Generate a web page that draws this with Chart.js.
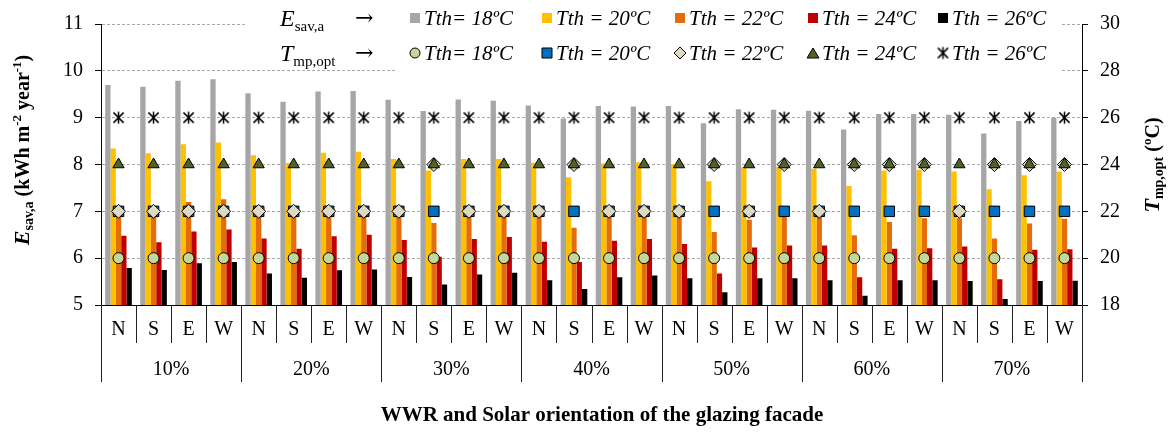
<!DOCTYPE html>
<html>
<head>
<meta charset="utf-8">
<title>Esav,a and Tmp,opt by WWR and orientation</title>
<script src="https://cdn.jsdelivr.net/npm/chart.js@4.4.0/dist/chart.umd.min.js"></script>
<style>
  html, body { margin: 0; padding: 0; background: #fff; }
  #wrap { width: 1168px; height: 432px; }
</style>
</head>
<body>
<div id="wrap"><canvas id="chart" width="1168" height="432"></canvas></div>
<script>
// --- data ---
const orientations = ['N', 'S', 'E', 'W'];
const wwrGroups = ['10%', '20%', '30%', '40%', '50%', '60%', '70%'];

// E_sav,a (kWh m-2 year-1), bars, one per Tth
const esav18 = [9.70, 9.66, 9.79, 9.82, 9.52, 9.34, 9.56, 9.57, 9.38, 9.14, 9.39, 9.36, 9.26, 8.98,
                9.25, 9.24, 9.25, 8.88, 9.18, 9.17, 9.15, 8.75, 9.08, 9.08, 9.06, 8.66, 8.93, 9.00];
const esav20 = [8.34, 8.24, 8.43, 8.47, 8.20, 8.03, 8.25, 8.27, 8.12, 7.87, 8.12, 8.12, 8.04, 7.73,
                8.02, 8.05, 8.01, 7.64, 7.94, 7.95, 7.91, 7.54, 7.87, 7.89, 7.85, 7.47, 7.77, 7.85];
const esav22 = [7.05, 7.00, 7.20, 7.26, 7.02, 6.95, 7.04, 7.05, 6.98, 6.75, 6.98, 6.99, 6.95, 6.65,
                6.94, 6.96, 6.92, 6.56, 6.82, 6.90, 6.90, 6.49, 6.77, 6.85, 6.85, 6.42, 6.74, 6.84];
const esav24 = [6.48, 6.34, 6.57, 6.61, 6.42, 6.20, 6.47, 6.50, 6.39, 6.03, 6.41, 6.45, 6.35, 5.92,
                6.37, 6.41, 6.30, 5.67, 6.23, 6.27, 6.27, 5.59, 6.20, 6.21, 6.25, 5.55, 6.18, 6.19];
const esav26 = [5.79, 5.75, 5.89, 5.92, 5.67, 5.58, 5.74, 5.76, 5.60, 5.44, 5.65, 5.69, 5.53, 5.34,
                5.59, 5.63, 5.57, 5.27, 5.57, 5.57, 5.53, 5.20, 5.53, 5.53, 5.51, 5.13, 5.51, 5.52];

// T_mp,opt (ºC), markers on the right axis
const tmp18 = [20, 20, 20, 20, 20, 20, 20, 20, 20, 20, 20, 20, 20, 20,
               20, 20, 20, 20, 20, 20, 20, 20, 20, 20, 20, 20, 20, 20];
const tmp20 = [22, 22, 22, 22, 22, 22, 22, 22, 22, 22, 22, 22, 22, 22,
               22, 22, 22, 22, 22, 22, 22, 22, 22, 22, 22, 22, 22, 22];
const tmp22 = [22, 22, 22, 22, 22, 22, 22, 22, 22, 24, 22, 22, 22, 24,
               22, 22, 22, 24, 22, 24, 22, 24, 24, 24, 22, 24, 24, 24];
const tmp24 = [24, 24, 24, 24, 24, 24, 24, 24, 24, 24, 24, 24, 24, 24,
               24, 24, 24, 24, 24, 24, 24, 24, 24, 24, 24, 24, 24, 24];
const tmp26 = [26, 26, 26, 26, 26, 26, 26, 26, 26, 26, 26, 26, 26, 26,
               26, 26, 26, 26, 26, 26, 26, 26, 26, 26, 26, 26, 26, 26];

const leftTicks = [5, 6, 7, 8, 9, 10, 11];
const rightTicks = [18, 20, 22, 24, 26, 28, 30];

// category labels: one per (wwr, orientation)
const labels = [];
wwrGroups.forEach(g => orientations.forEach(o => labels.push(o + ' ' + g)));

const SERIF = '"Liberation Serif", "Times New Roman", serif';
const C = {
  gray: '#a6a6a6', yellow: '#ffc000', orange: '#e46c0a', red: '#c00000', black: '#000000',
  circle: '#c3d69b', square: '#0070c0', diamond: '#ddd9c3', triangle: '#4f6228'
};

// asterisk marker (X + vertical stroke)
function makeAsterisk(size) {
  const c = document.createElement('canvas');
  c.width = size; c.height = size;
  const g = c.getContext('2d');
  const m = size / 2, r = size / 2 - 1.5;
  g.strokeStyle = '#000';
  g.lineWidth = 1.5;
  g.beginPath();
  g.moveTo(m - r * 0.85, m - r * 0.85); g.lineTo(m + r * 0.85, m + r * 0.85);
  g.moveTo(m + r * 0.85, m - r * 0.85); g.lineTo(m - r * 0.85, m + r * 0.85);
  g.moveTo(m, m - r); g.lineTo(m, m + r);
  g.stroke();
  return c;
}
const asterisk = makeAsterisk(15);

function barSet(label, data, color) {
  return { type: 'bar', label, data, backgroundColor: color, borderWidth: 0, yAxisID: 'y', order: 10,
           categoryPercentage: 0.76, barPercentage: 1.0 };
}
function markSet(label, data, style, fill, radius, order) {
  return { type: 'line', label, data, yAxisID: 'y2', showLine: false, order,
           pointStyle: style, pointRadius: radius, pointHoverRadius: radius,
           pointBackgroundColor: fill, pointBorderColor: '#000', pointBorderWidth: 1 };
}

// --- drawing helpers for the legend, titles and the two-level axis ---
function drawRich(ctx, parts, x, y, align) {
  ctx.textAlign = 'left';
  let total = 0;
  parts.forEach(p => { ctx.font = p[1]; total += ctx.measureText(p[0]).width; });
  let cx = align === 'center' ? x - total / 2 : x;
  parts.forEach(p => {
    ctx.font = p[1];
    ctx.fillText(p[0], cx, y + (p[2] || 0));
    cx += ctx.measureText(p[0]).width;
  });
}

function legendMarker(ctx, kind, x, y) {
  ctx.save();
  ctx.lineWidth = 1;
  ctx.strokeStyle = '#000';
  ctx.beginPath();
  if (kind === 'circle') {
    ctx.fillStyle = C.circle; ctx.arc(x, y, 5, 0, Math.PI * 2); ctx.fill(); ctx.stroke();
  } else if (kind === 'square') {
    ctx.fillStyle = C.square; ctx.rect(x - 5, y - 5, 10, 10); ctx.fill(); ctx.stroke();
  } else if (kind === 'diamond') {
    ctx.fillStyle = C.diamond;
    ctx.moveTo(x, y - 6); ctx.lineTo(x + 6, y); ctx.lineTo(x, y + 6); ctx.lineTo(x - 6, y); ctx.closePath();
    ctx.fill(); ctx.stroke();
  } else if (kind === 'triangle') {
    ctx.fillStyle = C.triangle;
    ctx.moveTo(x, y - 5); ctx.lineTo(x + 6, y + 5); ctx.lineTo(x - 6, y + 5); ctx.closePath();
    ctx.fill(); ctx.stroke();
  } else if (kind === 'asterisk') {
    ctx.drawImage(asterisk, x - 7.5, y - 7.5);
  } else {
    ctx.fillStyle = kind; ctx.fillRect(x - 5, y - 5, 10, 10);
  }
  ctx.restore();
}

const decor = {
  id: 'decor',
  beforeDatasetsDraw(chart) {
    // white legend box sitting over the top grid lines
    const ctx = chart.ctx;
    ctx.save();
    ctx.fillStyle = '#fff';
    ctx.fillRect(245, 0, 815, 64);
    ctx.fillRect(397, 60, 663, 14);
    ctx.restore();
  },
  afterDraw(chart) {
    const ctx = chart.ctx;
    const xs = chart.scales.x;
    const area = chart.chartArea;
    ctx.save();
    ctx.fillStyle = '#000';

    // legend
    const cols = [410, 542, 675, 808, 938];
    const texts = ['Tth= 18ºC', 'Tth = 20ºC', 'Tth = 22ºC', 'Tth = 24ºC', 'Tth = 26ºC'];
    const barKinds = [C.gray, C.yellow, C.orange, C.red, C.black];
    const markKinds = ['circle', 'square', 'diamond', 'triangle', 'asterisk'];
    const rows = [18, 53];
    ctx.textBaseline = 'alphabetic';
    drawRich(ctx, [['E', 'italic 24px ' + SERIF], ['sav,a', '15px ' + SERIF, 5]], 280, rows[0] + 8, 'left');
    drawRich(ctx, [['T', 'italic 24px ' + SERIF], ['mp,opt', '15px ' + SERIF, 5]], 280, rows[1] + 8, 'left');
    ctx.textAlign = 'left';
    ctx.font = '22px "DejaVu Serif", ' + SERIF;
    ctx.fillText('→', 355, rows[0] + 7);
    ctx.fillText('→', 355, rows[1] + 7);
    for (let i = 0; i < 5; i++) {
      legendMarker(ctx, barKinds[i], cols[i] + 5, rows[0]);
      legendMarker(ctx, markKinds[i], cols[i] + 5, rows[1]);
      ctx.fillStyle = '#000';
      ctx.font = 'italic 21px ' + SERIF;
      ctx.fillText(texts[i], cols[i] + 14, rows[0] + 7);
      ctx.fillText(texts[i], cols[i] + 14, rows[1] + 7);
    }

    // two-level category axis
    const n = labels.length;
    const w = (xs.right - xs.left) / n;
    ctx.strokeStyle = '#222';
    ctx.lineWidth = 1;
    ctx.beginPath();
    for (let i = 0; i <= n; i++) {
      const bx = Math.round(xs.left + i * w) + 0.5;
      ctx.moveTo(bx, area.bottom);
      ctx.lineTo(bx, i % 4 === 0 ? 382 : 343);
    }
    ctx.stroke();
    ctx.font = '20px ' + SERIF;
    ctx.textAlign = 'center';
    ctx.textBaseline = 'middle';
    for (let i = 0; i < n; i++) {
      ctx.fillText(orientations[i % 4], xs.getPixelForValue(i), 330);
    }
    wwrGroups.forEach((g, k) => {
      ctx.fillText(g, xs.left + (k * 4 + 2) * w, 370);
    });

    // x title
    ctx.textBaseline = 'alphabetic';
    ctx.font = 'bold 21px ' + SERIF;
    ctx.fillText('WWR and Solar orientation of the glazing facade', 602, 421);

    // left title
    ctx.save();
    ctx.translate(29, 150);
    ctx.rotate(-Math.PI / 2);
    drawRich(ctx, [
      ['E', 'bold italic 22px ' + SERIF], ['sav,a', 'bold 14px ' + SERIF, 4],
      [' (kWh m', 'bold 20px ' + SERIF], ['-2', 'bold 13px ' + SERIF, -8],
      [' year', 'bold 20px ' + SERIF], ['-1', 'bold 13px ' + SERIF, -8], [')', 'bold 20px ' + SERIF]
    ], 0, 0, 'center');
    ctx.restore();

    // right title
    ctx.save();
    ctx.translate(1159, 165);
    ctx.rotate(-Math.PI / 2);
    drawRich(ctx, [
      ['T', 'bold italic 22px ' + SERIF], ['mp,opt', 'bold 14px ' + SERIF, 4],
      [' (', 'bold 20px ' + SERIF], ['o', 'bold 13px ' + SERIF, -8], ['C)', 'bold 20px ' + SERIF]
    ], 0, 0, 'center');
    ctx.restore();

    ctx.restore();
  }
};

new Chart(document.getElementById('chart'), {
  data: {
    labels: labels,
    datasets: [
      barSet('Esav,a Tth= 18ºC', esav18, C.gray),
      barSet('Esav,a Tth = 20ºC', esav20, C.yellow),
      barSet('Esav,a Tth = 22ºC', esav22, C.orange),
      barSet('Esav,a Tth = 24ºC', esav24, C.red),
      barSet('Esav,a Tth = 26ºC', esav26, C.black),
      markSet('Tmp,opt Tth= 18ºC', tmp18, 'circle', C.circle, 5.5, 5),
      markSet('Tmp,opt Tth = 20ºC', tmp20, 'rect', C.square, 7.4, 4),
      markSet('Tmp,opt Tth = 22ºC', tmp22, 'rectRot', C.diamond, 7, 3),
      markSet('Tmp,opt Tth = 24ºC', tmp24, 'triangle', C.triangle, 6.5, 2),
      markSet('Tmp,opt Tth = 26ºC', tmp26, asterisk, '#000', 7, 1)
    ]
  },
  options: {
    responsive: false,
    animation: false,
    devicePixelRatio: 1,
    layout: { padding: { top: 21, left: 0, right: 0, bottom: 0 } },
    plugins: { legend: { display: false }, tooltip: { enabled: false } },
    scales: {
      x: {
        type: 'category',
        offset: true,
        grid: { display: false },
        ticks: { display: false },
        border: { color: '#000', width: 1 },
        afterFit: s => { s.height = 127; }
      },
      y: {
        position: 'left',
        min: leftTicks[0],
        max: leftTicks[leftTicks.length - 1],
        afterBuildTicks: s => { s.ticks = leftTicks.map(v => ({ value: v })); },
        ticks: { color: '#000', font: { family: SERIF, size: 20 }, padding: 12 },
        grid: { color: '#a9a9a9', lineWidth: 1, tickColor: '#000', tickLength: 6, tickBorderDash: [] },
        border: { color: '#000', width: 1, dash: [3, 2] },
        afterFit: s => { s.width = 101; }
      },
      y2: {
        position: 'right',
        min: rightTicks[0],
        max: rightTicks[rightTicks.length - 1],
        afterBuildTicks: s => { s.ticks = rightTicks.map(v => ({ value: v })); },
        ticks: { color: '#000', font: { family: SERIF, size: 20 }, padding: 12 },
        grid: { drawOnChartArea: false, tickColor: '#000', tickLength: 6 },
        border: { color: '#000', width: 1 },
        afterFit: s => { s.width = 86; }
      }
    }
  },
  plugins: [decor]
});
</script>
</body>
</html>
